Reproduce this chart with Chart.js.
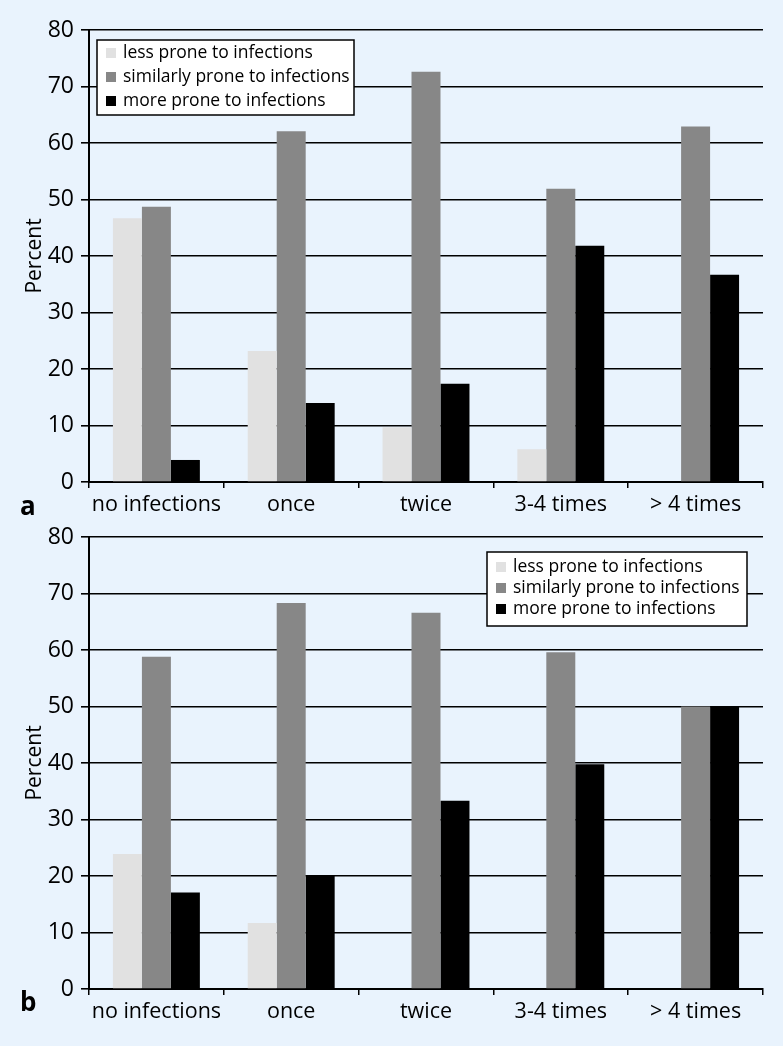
<!DOCTYPE html>
<html>
<head>
<meta charset="utf-8">
<script src="https://cdn.jsdelivr.net/npm/chart.js@4"></script>
<style>
  html, body { margin: 0; padding: 0; }
  body { width: 783px; height: 1046px; background: #e9f3fd; position: relative; overflow: hidden; font-family: "Open Sans", sans-serif; }
  .wrap { position: absolute; left: 0; width: 783px; }
  #wrapA { top: 0; height: 520px; }
  #wrapB { top: 515px; height: 531px; }
  .panel { position: absolute; left: 20px; font-weight: bold; font-size: 26px; color: #000; }
</style>
</head>
<body>
<div class="wrap" id="wrapA"><canvas id="chartA" width="783" height="520"></canvas></div>
<div class="wrap" id="wrapB"><canvas id="chartB" width="783" height="531"></canvas></div>
<div class="panel" style="top:487px">a</div>
<div class="panel" style="top:983px">b</div>
<script>
// data
const categories = ['no infections', 'once', 'twice', '3-4 times', '> 4 times'];
const seriesNames = ['less prone to infections', 'similarly prone to infections', 'more prone to infections'];
const seriesColors = ['#e1e1e1', '#878787', '#000000'];

const lessA = [46.7, 23.2, 9.7, 5.8, 0];
const similarA = [48.7, 62.1, 72.6, 51.9, 62.9];
const moreA = [3.9, 14.0, 17.4, 41.8, 36.7];

const lessB = [23.9, 11.7, 0, 0, 0];
const similarB = [58.8, 68.3, 66.6, 59.6, 50.0];
const moreB = [17.1, 20.0, 33.3, 39.8, 50.0];

const yMin = 0, yMax = 80, yStep = 10;

const FONT = '"Open Sans", sans-serif';

// legend box drawn inside the plot area
const boxLegend = {
  id: 'boxLegend',
  afterDraw(chart, args, opts) {
    const ctx = chart.ctx;
    const area = chart.chartArea;
    const x = opts.right != null ? area.right - opts.right - opts.width : area.left + opts.left;
    const y = area.top + opts.top;
    ctx.save();
    ctx.fillStyle = '#ffffff';
    ctx.fillRect(x, y, opts.width, opts.height);
    ctx.strokeStyle = '#000';
    ctx.lineWidth = 1.5;
    ctx.strokeRect(x, y, opts.width, opts.height);
    ctx.font = '17.5px ' + FONT;
    ctx.textBaseline = 'middle';
    chart.data.datasets.forEach((ds, i) => {
      const cy = y + opts.firstRow + i * opts.rowGap;
      ctx.fillStyle = ds.backgroundColor;
      ctx.fillRect(x + opts.swatchX, cy - 5, 10, 10);
      ctx.fillStyle = '#000';
      ctx.fillText(ds.label, x + opts.textX, cy);
    });
    ctx.restore();
  }
};

function makeChart(id, series, xHeight, padTop, legendOpts) {
  return new Chart(document.getElementById(id), {
    type: 'bar',
    data: {
      labels: categories,
      datasets: series.map((d, i) => ({
        label: seriesNames[i],
        data: d,
        backgroundColor: seriesColors[i],
        borderWidth: 0,
        categoryPercentage: 0.645,
        barPercentage: 1.0
      }))
    },
    options: {
      responsive: false,
      animation: false,
      layout: { padding: { top: padTop, right: 20, left: 0, bottom: 0 } },
      plugins: {
        legend: { display: false },
        tooltip: { enabled: false },
        boxLegend: legendOpts
      },
      scales: {
        x: {
          afterFit: (s) => { s.height = xHeight; },
          grid: { display: true, drawOnChartArea: false, drawTicks: true, tickLength: 6, color: '#000', lineWidth: 1.5 },
          border: { display: true, color: '#000', width: 2 },
          ticks: { color: '#000', font: { family: FONT, size: 21.5 }, padding: 4, maxRotation: 0 }
        },
        y: {
          min: yMin,
          max: yMax,
          afterFit: (s) => { s.width = 89; },
          grid: { color: '#000', lineWidth: 1.6, tickLength: 8, drawTicks: true },
          border: { display: true, color: '#000', width: 2 },
          ticks: { stepSize: yStep, color: '#000', font: { family: FONT, size: 23 }, padding: 7 },
          title: { display: true, text: 'Percent', color: '#000', font: { family: FONT, size: 21 }, padding: { top: 22, bottom: 0 } }
        }
      }
    },
    plugins: [boxLegend]
  });
}

makeChart('chartA', [lessA, similarA, moreA], 38, 30,
  { left: 8, top: 10, width: 257, height: 75, firstRow: 13, rowGap: 24, swatchX: 9, textX: 26 });
makeChart('chartB', [lessB, similarB, moreB], 57, 22,
  { right: 16, top: 15, width: 260, height: 74, firstRow: 15, rowGap: 21, swatchX: 9, textX: 26 });
</script>
</body>
</html>
